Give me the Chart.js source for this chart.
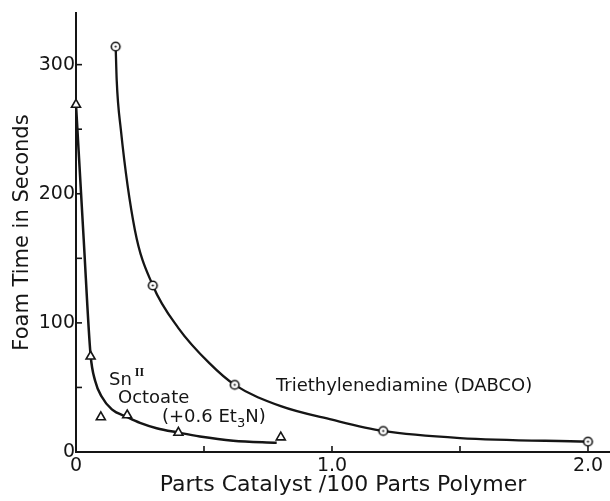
<!DOCTYPE html>
<html><head><meta charset="utf-8">
<script src="https://cdn.jsdelivr.net/npm/chart.js@4.4.1/dist/chart.umd.min.js"></script>
<style>html,body{margin:0;padding:0;background:#fff}</style>
</head><body>
<canvas id="c" width="610" height="501"></canvas>
<script>
// ---- data ----
const dabcoX = [0.155, 0.30, 0.62, 1.20, 2.00];
const dabcoY = [314, 129, 52, 16.3, 8];
const snX = [0.0, 0.057, 0.097, 0.20, 0.40, 0.80];
const snY = [269, 74, 27, 28.5, 15, 11.4];
// hand-drawn fitted curves
const dabcoCurveX = [0.155, 0.159, 0.175, 0.23, 0.30, 0.40, 0.52, 0.62, 0.80, 1.0, 1.2, 1.5, 2.0];
const dabcoCurveY = [314, 288, 250, 172, 129, 96, 69, 52, 35.5, 25, 16.3, 10.8, 8];
const snCurveX = [0.0, 0.03, 0.057, 0.075, 0.10, 0.14, 0.20, 0.25, 0.315, 0.40, 0.484, 0.614, 0.784];
const snCurveY = [269, 165, 75, 55, 43, 33, 27, 22.5, 18.4, 15, 12, 8.8, 7.2];
const xTicks = [0, 0.5, 1.0, 1.5, 2.0];
const xTickLabels = ['0', '', '1.0', '', '2.0'];
const yTicks = [0, 50, 100, 150, 200, 250, 300];
const yTickLabels = ['0', '', '100', '', '200', '', '300'];
const xTitle = 'Parts Catalyst /100 Parts Polymer';
const yTitle = 'Foam Time in Seconds';
// annotation anchors in data units (left baseline)
const labelSn = { x: 0.129, y: 52 };
const labelOct = { x: 0.164, y: 38 };
const labelEt = { x: 0.336, y: 23.5 };
const labelDabco = { x: 0.781, y: 47.5 };

const INK = '#151515';
const FAM = "'DejaVu Sans', sans-serif";
Chart.defaults.font.family = FAM;
Chart.defaults.color = INK;

const zip = (xs, ys) => xs.map((x, i) => ({ x: x, y: ys[i] }));

// circle-with-dot marker
const circ = document.createElement('canvas');
circ.width = 13; circ.height = 13;
(function () {
  const g = circ.getContext('2d');
  g.fillStyle = '#fff'; g.strokeStyle = INK; g.lineWidth = 1.6;
  g.beginPath(); g.arc(6.5, 6.5, 4.3, 0, Math.PI * 2); g.fill(); g.stroke();
  g.fillStyle = INK; g.beginPath(); g.arc(6.5, 6.5, 1.1, 0, Math.PI * 2); g.fill();
})();

const extras = {
  id: 'extras',
  afterDatasetsDraw(chart) {
    const ctx = chart.ctx, xs = chart.scales.x, ys = chart.scales.y;
    ctx.save();
    ctx.strokeStyle = INK; ctx.lineWidth = 1.6;
    const bot = ys.getPixelForValue(0), lft = xs.getPixelForValue(0);
    xTicks.forEach(v => { if (v === 0) return; const p = xs.getPixelForValue(v);
      ctx.beginPath(); ctx.moveTo(p, bot); ctx.lineTo(p, bot - 6); ctx.stroke(); });
    yTicks.forEach(v => { if (v === 0) return; const p = ys.getPixelForValue(v);
      ctx.beginPath(); ctx.moveTo(lft, p); ctx.lineTo(lft + 6, p); ctx.stroke(); });
    ctx.fillStyle = INK; ctx.textBaseline = 'alphabetic'; ctx.textAlign = 'left';
    const px = a => [xs.getPixelForValue(a.x), ys.getPixelForValue(a.y)];
    ctx.font = '18px ' + FAM;
    let [x, y] = px(labelSn);
    ctx.fillText('Sn', x, y);
    const wSn = ctx.measureText('Sn').width;
    ctx.font = 'bold 12px "Liberation Serif", serif';
    ctx.fillText('II', x + wSn + 3, y - 9);
    ctx.font = '18px ' + FAM;
    [x, y] = px(labelOct);
    ctx.fillText('Octoate', x, y);
    [x, y] = px(labelEt);
    const p1 = '(+0.6 Et';
    ctx.fillText(p1, x, y);
    let w = ctx.measureText(p1).width;
    ctx.font = '13px ' + FAM;
    ctx.fillText('3', x + w, y + 5);
    w += ctx.measureText('3').width;
    ctx.font = '18px ' + FAM;
    ctx.fillText('N)', x + w, y);
    [x, y] = px(labelDabco);
    ctx.fillText('Triethylenediamine (DABCO)', x, y);
    ctx.restore();
  }
};

new Chart(document.getElementById('c'), {
  type: 'scatter',
  data: {
    datasets: [
      { label: 'DABCO points', data: zip(dabcoX, dabcoY), pointStyle: circ, pointRadius: 6, showLine: false, clip: false },
      { label: 'Sn points', data: zip(snX, snY), pointStyle: 'triangle', pointRadius: 5.2,
        backgroundColor: '#fff', borderColor: INK, borderWidth: 1.6, showLine: false, clip: false },
      { label: 'DABCO curve', data: zip(dabcoCurveX, dabcoCurveY), showLine: true, pointRadius: 0,
        borderColor: INK, borderWidth: 2.3, cubicInterpolationMode: 'monotone', fill: false, clip: false },
      { label: 'Sn curve', data: zip(snCurveX, snCurveY), showLine: true, pointRadius: 0,
        borderColor: INK, borderWidth: 2.5, cubicInterpolationMode: 'monotone', fill: false, clip: false }
    ]
  },
  options: {
    responsive: false, animation: false, devicePixelRatio: 1,
    layout: { autoPadding: false, padding: { top: 13, right: 0, left: 0, bottom: 0 } },
    plugins: { legend: { display: false }, tooltip: { enabled: false } },
    scales: {
      x: {
        type: 'linear', min: 0, max: 2.086,
        afterBuildTicks: s => { s.ticks = xTicks.map(v => ({ value: v })); },
        afterFit: s => { s.height = 49; s.paddingRight = 0; s.paddingLeft = 0; },
        ticks: { callback: (v, i) => xTickLabels[i], color: INK, font: { size: 19 }, padding: 3, maxRotation: 0, autoSkip: false },
        grid: { display: true, drawOnChartArea: false, drawTicks: false },
        border: { display: true, color: INK, width: 2 },
        title: { display: true, text: xTitle, color: INK, font: { size: 22 }, padding: { top: 0, bottom: 3 } }
      },
      y: {
        type: 'linear', min: 0, max: 340,
        afterBuildTicks: s => { s.ticks = yTicks.map(v => ({ value: v })); },
        afterFit: s => { s.width = 76; s.paddingTop = 0; s.paddingBottom = 0; },
        ticks: { callback: (v, i) => yTickLabels[i], color: INK, font: { size: 19 }, padding: 1, autoSkip: false },
        grid: { display: true, drawOnChartArea: false, drawTicks: false },
        border: { display: true, color: INK, width: 2 },
        title: { display: true, text: yTitle, color: INK, font: { size: 21 }, padding: { top: 10, bottom: 0 } }
      }
    }
  },
  plugins: [extras]
});
</script>
</body></html>
